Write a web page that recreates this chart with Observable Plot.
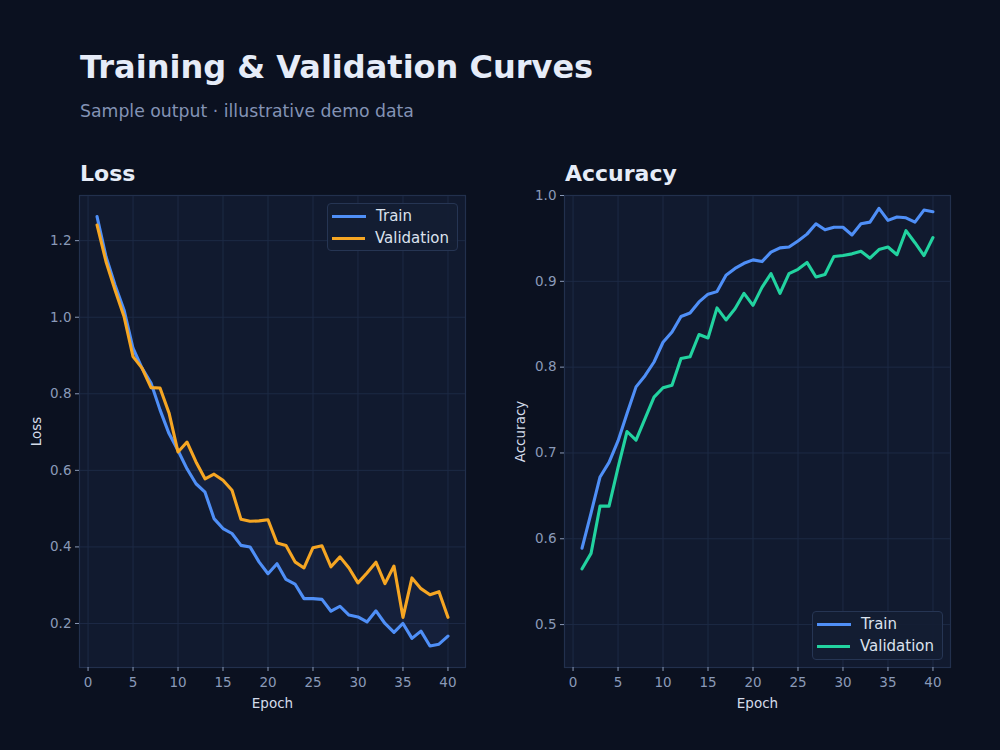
<!DOCTYPE html>
<html>
<head>
<meta charset="utf-8">
<script src="https://cdn.jsdelivr.net/npm/d3@7"></script>
<script src="https://cdn.jsdelivr.net/npm/@observablehq/plot@0.6"></script>
<style>
  html, body { margin: 0; padding: 0; background: #0b1120; }
  body { width: 1000px; height: 750px; position: relative; overflow: hidden;
         font-family: "DejaVu Sans", sans-serif; }
  .title { position: absolute; left: 80px; top: 51px; font-size: 32px; line-height: 1;
           font-weight: bold; color: #e6ecf8; white-space: nowrap; }
  .subtitle { position: absolute; left: 80px; top: 103px; font-size: 17.3px; line-height: 1;
              color: #8393b5; white-space: nowrap; }
  .panel-title { position: absolute; top: 163px; font-size: 22px; line-height: 1;
                 font-weight: bold; color: #e6ecf8; white-space: nowrap; }
  .chart { position: absolute; top: 185px; }
  .chart svg g[aria-label$="axis label"] { fill: #d5dcea; }
  .legend { position: absolute; box-sizing: border-box; background: rgba(19, 29, 51, 0.92);
            border: 1px solid #263553; border-radius: 4px; padding: 1px 8px 4px 4px; }
  .legend .item { display: flex; align-items: center; height: 22px; font-size: 15px;
                  color: #dbe2ee; white-space: nowrap; }
  .legend .swatch { width: 34px; height: 3px; margin-right: 10px; }
</style>
</head>
<body>
<div class="title">Training &amp; Validation Curves</div>
<div class="subtitle">Sample output · illustrative demo data</div>
<div class="panel-title" style="left:80px">Loss</div>
<div class="panel-title" style="left:565px">Accuracy</div>
<div id="loss" class="chart" style="left:20px"></div>
<div id="acc" class="chart" style="left:505px"></div>
<div id="lossLegend" class="legend" style="left:327px; top:203px; width:131px; height:48px"></div>
<div id="accLegend" class="legend" style="left:812px; top:611px; width:131px; height:49px"></div>
<script>
// Epochs and per-epoch metrics
const epochs = [1, 2, 3, 4, 5, 6, 7, 8, 9, 10, 11, 12, 13, 14, 15, 16, 17, 18, 19, 20,
                21, 22, 23, 24, 25, 26, 27, 28, 29, 30, 31, 32, 33, 34, 35, 36, 37, 38, 39, 40];

const lossTrain = [1.263, 1.158, 1.084, 1.019, 0.919, 0.867, 0.828, 0.758, 0.696, 0.652,
                   0.604, 0.565, 0.543, 0.474, 0.448, 0.435, 0.404, 0.400, 0.361, 0.330,
                   0.356, 0.315, 0.303, 0.265, 0.265, 0.263, 0.232, 0.245, 0.222, 0.217,
                   0.204, 0.233, 0.200, 0.177, 0.200, 0.161, 0.180, 0.141, 0.146, 0.167];

const lossVal = [1.241, 1.145, 1.071, 1.002, 0.897, 0.867, 0.816, 0.815, 0.750, 0.648,
                 0.674, 0.622, 0.578, 0.590, 0.574, 0.548, 0.472, 0.467, 0.468, 0.471,
                 0.410, 0.404, 0.361, 0.345, 0.398, 0.403, 0.348, 0.374, 0.345, 0.306,
                 0.332, 0.360, 0.304, 0.350, 0.216, 0.319, 0.291, 0.275, 0.283, 0.216];

const accTrain = [0.589, 0.630, 0.672, 0.689, 0.714, 0.746, 0.777, 0.790, 0.806, 0.829,
                  0.841, 0.859, 0.863, 0.876, 0.885, 0.888, 0.907, 0.915, 0.921, 0.925,
                  0.923, 0.934, 0.939, 0.940, 0.947, 0.955, 0.967, 0.960, 0.963, 0.963,
                  0.954, 0.967, 0.969, 0.985, 0.971, 0.975, 0.974, 0.969, 0.983, 0.981];

const accVal = [0.565, 0.583, 0.638, 0.638, 0.683, 0.725, 0.715, 0.740, 0.765, 0.776,
                0.779, 0.810, 0.812, 0.838, 0.834, 0.869, 0.855, 0.868, 0.886, 0.872,
                0.893, 0.909, 0.886, 0.909, 0.914, 0.922, 0.905, 0.908, 0.929, 0.930,
                0.932, 0.935, 0.927, 0.937, 0.940, 0.931, 0.959, 0.945, 0.930, 0.951];

const seriesNames = ["Train", "Validation"];
const xTicks = [0, 5, 10, 15, 20, 25, 30, 35, 40];
const lossTicks = [0.2, 0.4, 0.6, 0.8, 1.0, 1.2];
const accTicks = [0.5, 0.6, 0.7, 0.8, 0.9, 1.0];

// Palette
const BLUE = "#4f8ff7", ORANGE = "#f6a623", GREEN = "#22d3a0";
const PANEL = "#111a2f", BORDER = "#22304d", GRID = "#1d2a45", TICK = "#8a9ab8";

function rows(a, b) {
  return epochs.map((e, i) => ({epoch: e, train: a[i], val: b[i]}));
}

function panel({data, yDomain, yTicks, yLabel, labelOffset, valColor, band}) {
  const marks = [
    Plot.frame({fill: PANEL, stroke: null}),
    Plot.gridX(xTicks, {stroke: GRID, strokeOpacity: 1, strokeWidth: 1}),
    Plot.gridY(yTicks, {stroke: GRID, strokeOpacity: 1, strokeWidth: 1}),
    Plot.frame({stroke: BORDER, strokeWidth: 1.2}),
  ];
  if (band) {
    // shaded gap between train and validation loss
    marks.push(Plot.areaY(data, {x: "epoch", y1: "train", y2: "val", fill: BLUE, fillOpacity: 0.06}));
  }
  marks.push(
    Plot.lineY(data, {x: "epoch", y: "train", stroke: BLUE, strokeWidth: 3.1}),
    Plot.lineY(data, {x: "epoch", y: "val", stroke: valColor, strokeWidth: 3.1}),
    Plot.axisX(xTicks, {tickSize: 4, tickPadding: 6, color: TICK, fontSize: 13.5,
      label: "Epoch", labelAnchor: "center", labelArrow: "none", labelOffset: 40}),
    Plot.axisY(yTicks, {tickSize: 4, tickPadding: 4, color: TICK, fontSize: 13.5,
      tickFormat: d3.format(".1f"),
      label: yLabel, labelAnchor: "center", labelArrow: "none", labelOffset})
  );
  return Plot.plot({
    width: 455, height: 535,
    marginLeft: 59, marginRight: 10, marginTop: 10, marginBottom: 53,
    x: {domain: [-0.95, 41.95]},
    y: {domain: yDomain},
    style: {background: "transparent", color: TICK, fontFamily: "DejaVu Sans, sans-serif", fontSize: "13.5px"},
    marks
  });
}

document.getElementById("loss").append(panel({
  data: rows(lossTrain, lossVal), yDomain: [0.085, 1.318], yTicks: lossTicks,
  yLabel: "Loss", labelOffset: 48, valColor: ORANGE, band: true
}));
document.getElementById("acc").append(panel({
  data: rows(accTrain, accVal), yDomain: [0.45, 1.0], yTicks: accTicks,
  yLabel: "Accuracy", labelOffset: 49, valColor: GREEN, band: false
}));

function legend(id, colors) {
  const el = document.getElementById(id);
  seriesNames.forEach((name, i) => {
    const item = document.createElement("div");
    item.className = "item";
    const sw = document.createElement("div");
    sw.className = "swatch";
    sw.style.background = colors[i];
    const label = document.createElement("span");
    label.textContent = name;
    item.append(sw, label);
    el.append(item);
  });
}
legend("lossLegend", [BLUE, ORANGE]);
legend("accLegend", [BLUE, GREEN]);
</script>
</body>
</html>
